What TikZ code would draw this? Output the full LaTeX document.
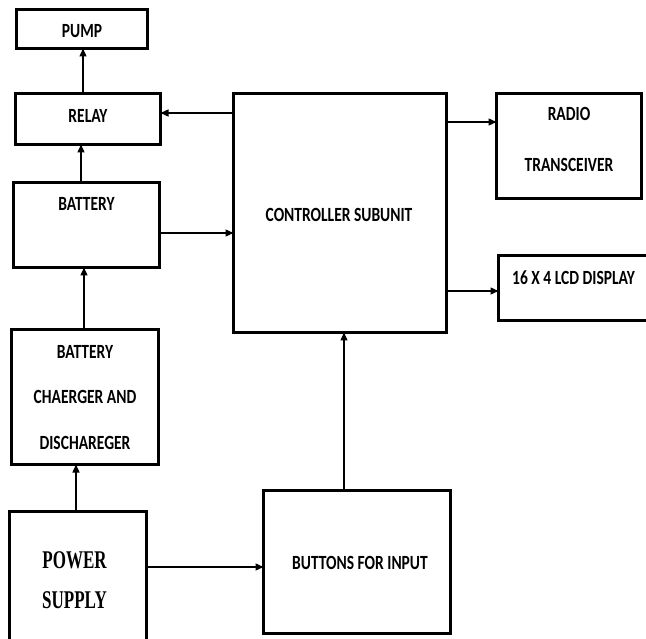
\documentclass[tikz,border=0pt]{standalone}
\usepackage{graphicx}
\usepackage{fontspec}
\setmainfont{Carlito}
\newfontfamily\psfont{Liberation Serif}
\usetikzlibrary{arrows.meta}
\newcommand{\tx}[1]{\scalebox{1}[1.3]{#1}}
\newcommand{\txs}[1]{\scalebox{1}[1.5]{#1}}
\tikzset{
  blk/.style={draw,line width=2.8pt,inner sep=0pt,outer sep=0pt},
  lbl/.style={font=\bfseries\fontsize{15.5}{18}\selectfont,inner sep=0pt,align=center},
  arr/.style={line width=1.4pt,-{Triangle[length=8pt,width=7pt]}}
}
\begin{document}
\begin{tikzpicture}[x=1pt,y=-1pt]
\useasboundingbox (0,0) rectangle (646,639);
\clip (0,0) rectangle (646,639);
% boxes
\node[blk,minimum width=131pt,minimum height=39pt] (pump) at (82,29) {};
\node[blk,minimum width=145pt,minimum height=51pt] (relay) at (88,119) {};
\node[blk,minimum width=146pt,minimum height=85pt] (battery) at (86.5,225) {};
\node[blk,minimum width=147pt,minimum height=135pt] (charger) at (85,397) {};
\node[blk,minimum width=137pt,minimum height=137pt] (ps) at (78,580) {};
\node[blk,minimum width=213pt,minimum height=239pt] (controller) at (340,213) {};
\node[blk,minimum width=145pt,minimum height=105pt] (radio) at (569,146) {};
\node[blk,minimum width=171.5pt,minimum height=65pt] (lcd) at (584.25,288) {};
\node[blk,minimum width=187pt,minimum height=143pt] (buttons) at (357,562) {};
% texts
\node[lbl] (pumpt) at (82,31.5) {\tx{PUMP}};
\node[lbl] (relayt) at (88,116) {\tx{RELAY}};
\node[lbl] (batteryt) at (86.5,204) {\tx{BATTERY}};
\node[lbl,font=\bfseries\fontsize{15.5}{45.5}\selectfont] (chargert) at (85,397.5) {\tx{BATTERY}\\\tx{CHAERGER AND}\\\tx{DISCHAREGER}};
\node[lbl,font=\psfont\bfseries\fontsize{17}{40}\selectfont] (pst) at (74.5,580.5) {\txs{POWER}\\\txs{SUPPLY}};
\node[lbl] (controllert) at (339,215) {\tx{CONTROLLER SUBUNIT}};
\node[lbl,font=\bfseries\fontsize{15.5}{51}\selectfont] (radiot) at (569,139.5) {\tx{RADIO}\\\tx{TRANSCEIVER}};
\node[lbl] (lcdt) at (573.5,278) {\tx{16 X 4 LCD DISPLAY}};
\node[lbl] (buttonst) at (360,562.5) {\tx{BUTTONS FOR INPUT}};
% connectors
\draw[arr] ([xshift=-5pt]relay.north) -- ([xshift=-5pt]relay.north |- pump.south);
\draw[arr] ([xshift=-5.5pt]battery.north) -- ([xshift=-5.5pt]battery.north |- relay.south);
\draw[arr] ([xshift=-1pt]charger.north) -- ([xshift=-1pt]charger.north |- battery.south);
\draw[arr] ([xshift=-2pt]ps.north) -- ([xshift=-2pt]ps.north |- charger.south);
\draw[arr] ([yshift=13pt]ps.east) -- ([yshift=13pt]ps.east -| buttons.west);
\draw[arr] ([xshift=-13pt]buttons.north) -- ([xshift=-13pt]buttons.north |- controller.south);
\draw[arr] ([yshift=-8pt]battery.east) -- ([yshift=-8pt]battery.east -| controller.west);
\draw[arr] ([yshift=6pt]relay.east -| controller.west) -- ([yshift=6pt]relay.east);
\draw[arr] ([yshift=24pt]radio.west -| controller.east) -- ([yshift=24pt]radio.west);
\draw[arr] ([yshift=-3pt]lcd.west -| controller.east) -- ([yshift=-3pt]lcd.west);
\end{tikzpicture}
\end{document}
